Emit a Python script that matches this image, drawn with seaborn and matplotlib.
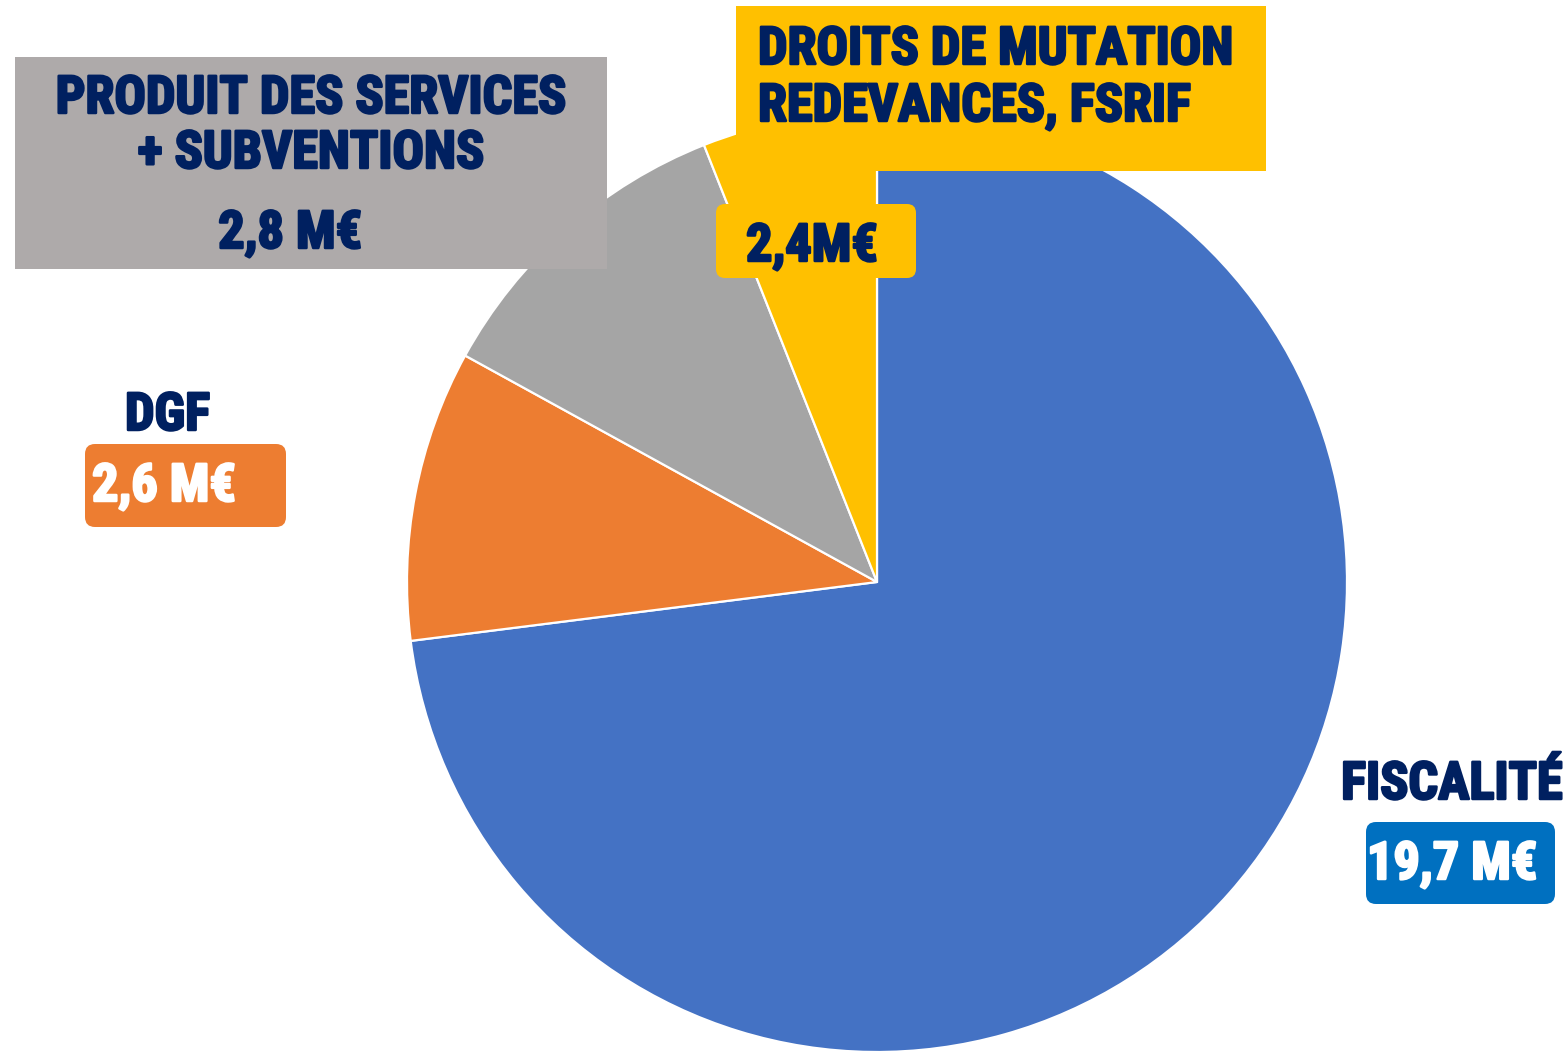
import matplotlib
matplotlib.use("Agg")
import matplotlib.pyplot as plt
import matplotlib.patheffects as pe
from matplotlib import font_manager
from matplotlib.patches import FancyBboxPatch, Rectangle
import seaborn as sns

# slice shares as drawn (percent of the disc), clockwise from 12 o'clock
categories = ["FISCALITÉ", "DGF", "PRODUIT DES SERVICES\n+ SUBVENTIONS",
              "DROITS DE MUTATION\nREDEVANCES, FSRIF"]
shares = [73.0, 10.0, 11.0, 6.0]
amount_labels = ["19,7 M€", "2,6 M€", "2,8 M€", "2,4M€"]
slice_colors = ["#4472C4", "#ED7D31", "#A5A5A5", "#FFC000"]

navy = "#002060"
sns.set_theme(style="white")

installed = {f.name for f in font_manager.fontManager.ttflist}
family = next(f for f in ["Liberation Sans Narrow", "Roboto Condensed", "Roboto",
                          "Liberation Sans", "DejaVu Sans"] if f in installed)
plt.rcParams["font.family"] = [family, "DejaVu Sans"]

fig = plt.figure(figsize=(15.68, 10.52), dpi=100)

# pie: centre (877, 582) px, radius 470 px
ax = fig.add_axes([407 / 1568, 0, 940 / 1568, 940 / 1052])
ax.pie(shares, colors=slice_colors, startangle=90, counterclock=False,
       wedgeprops=dict(edgecolor="white", linewidth=1.6))
ax.set_xlim(-1, 1)
ax.set_ylim(-1, 1)
ax.set_aspect("equal")
ax.axis("off")

# overlay in pixel coords for the label boxes
ov = fig.add_axes([0, 0, 1, 1], zorder=2)
ov.set_xlim(0, 1568)
ov.set_ylim(1052, 0)
ov.patch.set_alpha(0)
ov.axis("off")

# size the font so the widest line is as wide as in the original (~511 px)
probe = ov.text(0, 0, "PRODUIT DES SERVICES", fontsize=34, fontweight="bold")
w = probe.get_window_extent(fig.canvas.get_renderer()).width
probe.remove()
fs = 34 * 511 / w

def label(x, y, s, color=navy, ha="left"):
    ov.text(x, y, s, fontsize=fs, fontweight="bold", color=color, ha=ha,
            va="baseline",
            path_effects=[pe.withStroke(linewidth=1.8, foreground=color)])

# produit des services
ov.add_patch(Rectangle((15, 57), 592, 212, facecolor="#AEAAAA", edgecolor="none"))
lines = categories[2].split("\n")
label(311, 113, lines[0], ha="center")
label(311, 168, lines[1], ha="center")
label(290, 248, amount_labels[2], ha="center")

# droits de mutation
ov.add_patch(Rectangle((736, 6), 530, 165, facecolor="#FFC000", edgecolor="none"))
lines = categories[3].split("\n")
label(758, 64, lines[0])
label(758, 121, lines[1])
ov.add_patch(FancyBboxPatch((716, 204), 200, 74, boxstyle="round,pad=0,rounding_size=9",
                            facecolor="#FFC000", edgecolor="none"))
label(746, 261, amount_labels[3])

# DGF
label(125, 430, categories[1])
ov.add_patch(FancyBboxPatch((85, 444), 201, 83, boxstyle="round,pad=0,rounding_size=10",
                            facecolor="#ED7D31", edgecolor="none"))
label(92, 501, amount_labels[1], color="white")

# fiscalite
label(1563, 799, categories[0], ha="right")
ov.add_patch(FancyBboxPatch((1366, 822), 189, 82, boxstyle="round,pad=0,rounding_size=10",
                            facecolor="#0070C0", edgecolor="none"))
label(1367, 879, amount_labels[0], color="white")

fig.savefig("out.png", dpi=100)
